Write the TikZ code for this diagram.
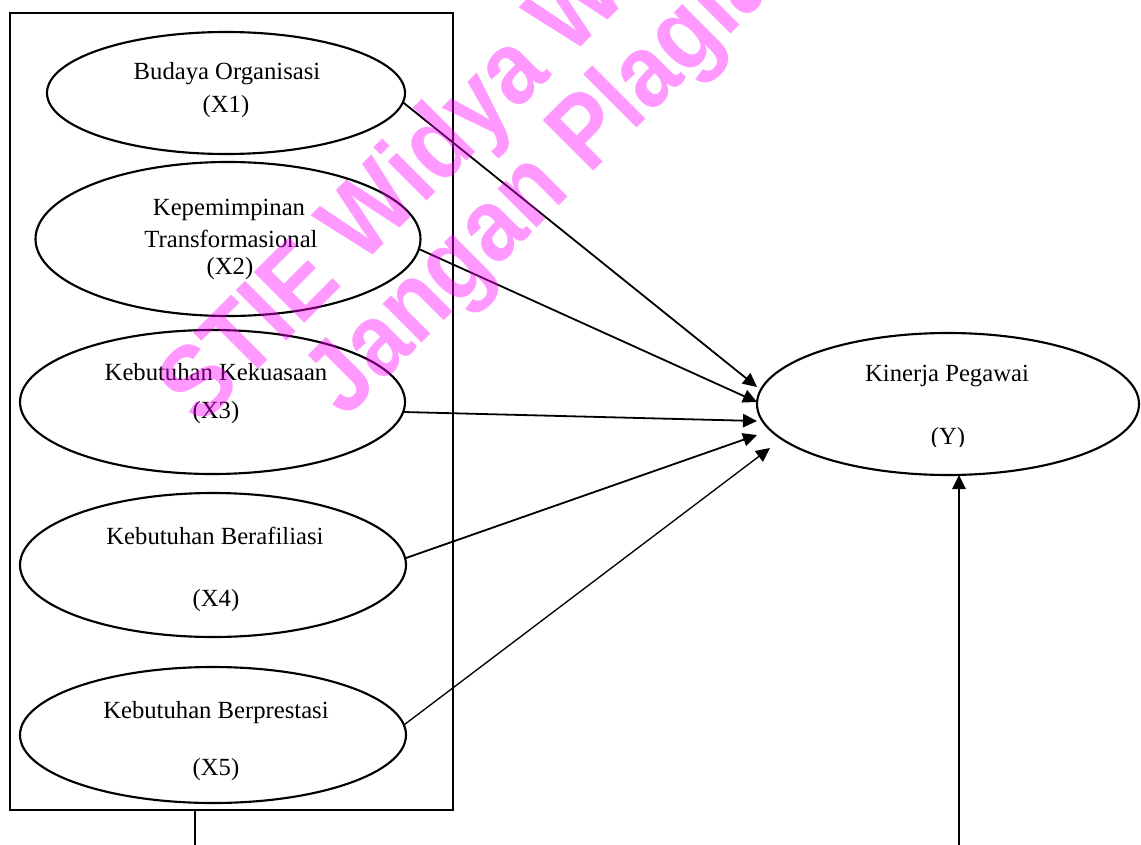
\documentclass[tikz,border=0pt]{standalone}
\usepackage{fontspec}
\usepackage{graphicx}
\setmainfont{Liberation Serif}
\newfontfamily\wmfont{Liberation Sans}
\usetikzlibrary{arrows.meta,shapes.geometric}
\definecolor{wmc}{RGB}{255,0,255}
\begin{document}
\begin{tikzpicture}[x=0.75pt,y=-0.75pt,
  lat/.style={draw, ellipse, line width=1.6pt, inner sep=0pt, outer sep=0pt},
  lbl/.style={anchor=base, inner sep=0pt, font=\fontsize{18.5}{22}\selectfont},
  arr/.style={line width=1.35pt, -{Triangle[length=10.5pt,width=10pt]}},
  wm/.style={anchor=base west, rotate=45, inner sep=0pt, text=wmc, text opacity=0.4,
    font=\wmfont\bfseries\fontsize{78}{86}\selectfont}]
\clip (0,0) rectangle (1141,845);
\fill[white] (0,0) rectangle (1141,845);

% outer box
\node[draw, line width=1.6pt, inner sep=0pt, minimum width=332.25pt, minimum height=597.75pt] (box) at (231.5,411.5) {};

% ellipses
\node[lat, minimum width=268.5pt, minimum height=91.5pt] (e1) at (226,93) {};
\node[lat, minimum width=288.75pt, minimum height=115.5pt] (e2) at (228,239) {};
\node[lat, minimum width=288.75pt, minimum height=108pt] (e3) at (212.5,402) {};
\node[lat, minimum width=289.5pt, minimum height=108pt] (e4) at (213,565) {};
\node[lat, minimum width=289.5pt, minimum height=102pt] (e5) at (213,735) {};
\node[lat, minimum width=286.5pt, minimum height=106.5pt] (ey) at (948,404) {};

% labels
\node[lbl] (t1a) at (227,80) {Budaya Organisasi};
\node[lbl] (t1b) at (226,113) {(X1)};
\node[lbl] (t2a) at (229,215) {Kepemimpinan};
\node[lbl] (t2b) at (231,247) {Transformasional};
\node[lbl] (t2c) at (230,274) {(X2)};
\node[lbl] (t3a) at (216,380) {Kebutuhan Kekuasaan};
\node[lbl] (t3b) at (216,418) {(X3)};
\node[lbl] (t4a) at (215,544) {Kebutuhan Berafiliasi};
\node[lbl] (t4b) at (216,606) {(X4)};
\node[lbl] (t5a) at (216,718) {Kebutuhan Berprestasi};
\node[lbl] (t5b) at (216,775) {(X5)};
\node[lbl] (tya) at (947,381) {Kinerja Pegawai};
\begin{scope}
\clip (850,400) rectangle (1050,446);
\node[lbl] (tyb) at (948,444) {(Y)};
\end{scope}

% arrow tips
\coordinate (p1) at (757,387);
\coordinate (p2) at (757,402);
\coordinate (p3) at (757,421);
\coordinate (p4) at (757,435);
\coordinate (p5) at (770,448);

\draw[arr] (e1.-3.2) -- (p1);
\draw[arr] (e2.-3.3) -- (p2);
\draw[arr] (e3.-3.0) -- (p3);
\draw[arr] (e4.2.4) -- (p4);
\draw[arr, line width=1.0pt] (e5.3.0) -- (p5);

% lines leaving the bottom edge
\coordinate (b1) at (195,846);
\coordinate (b2) at (959,846);
\draw[line width=1.6pt] (box.south -| b1) -- (b1);
\draw[arr, line width=1.6pt] (b2) -- (b2 |- ey.south);

% watermark
\node[wm] (wm1) at (200,428) {\scalebox{0.88}[1]{STIE Widya Wiwaha}};
\node[wm] (wm2) at (345,420) {\scalebox{0.88}[1]{Jangan Plagiat}};
\end{tikzpicture}
\end{document}
